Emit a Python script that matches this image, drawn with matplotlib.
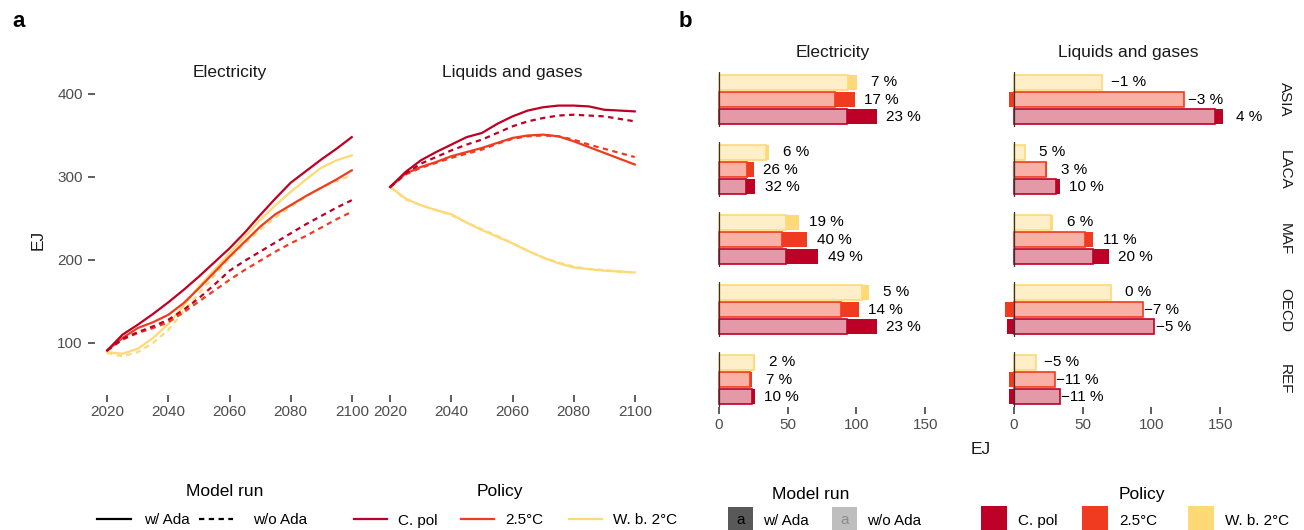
import matplotlib.pyplot as plt
from matplotlib.colors import to_rgba
from matplotlib.patches import Rectangle

plt.rcParams['font.family'] = ['Liberation Sans', 'DejaVu Sans']

# ---- panel a: global final energy, EJ ----
years = [2020, 2025, 2030, 2035, 2040, 2045, 2050, 2055, 2060,
         2065, 2070, 2075, 2080, 2085, 2090, 2095, 2100]

elec_cpol_w = [91, 110, 122, 135, 149, 164, 180, 197, 214, 233, 254, 274, 293, 307, 321, 334, 348]
elec_cpol_wo = [91, 105, 113, 120, 128, 140, 154, 170, 187, 199, 210, 221, 232, 243, 253, 263, 272]
elec_25_w = [91, 106, 118, 125, 134, 148, 166, 185, 204, 222, 240, 255, 266, 277, 287, 297, 308]
elec_25_wo = [91, 104, 112, 118, 125, 137, 150, 163, 176, 188, 199, 210, 220, 229, 239, 249, 258]
elec_wb2_w = [89, 87, 93, 106, 123, 145, 168, 188, 208, 228, 248, 266, 282, 297, 311, 320, 326]
elec_wb2_wo = [88, 84, 89, 100, 116, 138, 160, 181, 202, 220, 236, 251, 264, 276, 287, 295, 302]

liq_cpol_w = [288, 306, 320, 330, 339, 348, 353, 364, 373, 380, 384, 386, 386, 385, 381, 380, 379]
liq_cpol_wo = [288, 304, 316, 324, 332, 339, 345, 353, 361, 367, 371, 374, 375, 374, 373, 370, 367]
liq_25_w = [288, 304, 312, 318, 325, 330, 335, 341, 347, 350, 351, 349, 343, 336, 329, 322, 315]
liq_25_wo = [288, 303, 311, 317, 323, 328, 333, 340, 346, 349, 350, 349, 345, 339, 334, 329, 324]
liq_wb2_w = [288, 274, 266, 260, 255, 245, 236, 228, 220, 211, 203, 196, 191, 189, 187, 186, 185]
liq_wb2_wo = [288, 273, 266, 260, 254, 245, 237, 229, 220, 211, 203, 197, 192, 189, 188, 186, 185]

# ---- panel b: regional demand in 2100, EJ ----
regions = ["ASIA", "LACA", "MAF", "OECD", "REF"]
bar_policies = ["W. b. 2°C", "2.5°C", "C. pol"]   # top to bottom in each facet

# w/o Ada values and the change with Ada (%), per region, order of bar_policies
elec_wo_ada = [[94.0, 84.5, 93.2],
               [34.3, 20.2, 20.0],
               [49.1, 45.9, 48.5],
               [104.1, 89.1, 93.2],
               [25.7, 22.4, 23.8]]
elec_change = [[7, 17, 23],
               [6, 26, 32],
               [19, 40, 49],
               [5, 14, 23],
               [2, 7, 10]]
liq_wo_ada = [[64.2, 123.4, 145.9],
              [8.0, 23.7, 30.5],
              [26.9, 51.6, 57.6],
              [70.5, 94.2, 101.7],
              [16.4, 29.9, 33.8]]
liq_change = [[-1, -3, 4],
              [5, 3, 10],
              [6, 11, 20],
              [0, -7, -5],
              [-5, -11, -11]]

colors = {"C. pol": "#BD0026", "2.5°C": "#F03B20", "W. b. 2°C": "#FED976"}

W, H = 1304, 530
fig = plt.figure(figsize=(W / 100, H / 100), dpi=100)


def add_ax(left, top, right, bottom):
    return fig.add_axes([left / W, 1 - bottom / H, (right - left) / W, (bottom - top) / H])


def clean(ax):
    for s in ax.spines.values():
        s.set_visible(False)
    ax.set_facecolor("none")
    ax.tick_params(colors="#333333", labelcolor="#4D4D4D", labelsize=11,
                   length=4.8, width=1.1)


# ---- panel a ----
elec = {"W. b. 2°C": (elec_wb2_w, elec_wb2_wo),
        "2.5°C": (elec_25_w, elec_25_wo),
        "C. pol": (elec_cpol_w, elec_cpol_wo)}
liq = {"W. b. 2°C": (liq_wb2_w, liq_wb2_wo),
       "2.5°C": (liq_25_w, liq_25_wo),
       "C. pol": (liq_cpol_w, liq_cpol_wo)}

ax_el = add_ax(95, 85, 364, 395)
ax_lq = add_ax(378, 85, 647, 395)
for ax, title, series in [(ax_el, "Electricity", elec), (ax_lq, "Liquids and gases", liq)]:
    clean(ax)
    for pol in ["W. b. 2°C", "2.5°C", "C. pol"]:
        w, wo = series[pol]
        ax.plot(years, w, color=colors[pol], lw=1.6)
        ax.plot(years, wo, color=colors[pol], lw=1.6, ls=(0, (2.4, 2.0)))
    ax.set_xlim(2016, 2104)
    ax.set_ylim(37.3, 410.8)
    ax.set_xticks([2020, 2040, 2060, 2080, 2100])
    ax.tick_params(axis="x", pad=2.5)
    ax.text(0.5, 1 + 12 / 310, title, transform=ax.transAxes, ha="center",
            va="center", fontsize=12.5, color="#1A1A1A")
ax_el.set_yticks([100, 200, 300, 400])
ax_el.tick_params(axis="y", pad=4)
ax_lq.set_yticks([])
fig.text(38 / W, 1 - 240 / H, "EJ", rotation=90, ha="center", va="center",
         fontsize=12.5, color="#1A1A1A")

# ---- panel b ----
row_tops = [72, 142, 212, 282, 352]
row_h = 55
cols = [("Electricity", 705, 961, elec_wo_ada, elec_change),
        ("Liquids and gases", 1000, 1256, liq_wo_ada, liq_change)]

for title, left, right, wo_tab, pct_tab in cols:
    for i, reg in enumerate(regions):
        top = row_tops[i]
        ax = add_ax(left, top, right, top + row_h)
        clean(ax)
        ax.set_xlim(-10, 176)
        ax.set_ylim(3.6, 0.4)
        for k, pol in enumerate(bar_policies):
            c = colors[pol]
            wo = wo_tab[i][k]
            pct = pct_tab[i][k]
            w = wo * (1 + pct / 100)
            diff = w - wo
            # change due to adaptation: stacked on the w/o bar, or below zero if negative
            if diff >= 0:
                ax.barh(k + 1, diff, left=wo, height=0.9, color=c, lw=0)
            else:
                ax.barh(k + 1, diff, left=0, height=0.9, color=c, lw=0)
            ax.barh(k + 1, wo, left=0, height=0.9, facecolor=to_rgba(c, 0.4),
                    edgecolor=c, lw=1.2)
            label = f"{pct} %".replace("-", "\u2212")
            ax.text(w + 19.5, k + 1, label, ha="center", va="center",
                    fontsize=11, color="black")
        ax.axvline(0, color="#333333", lw=0.9, zorder=5)
        ax.set_yticks([])
        if i == len(regions) - 1:
            ax.set_xticks([0, 50, 100, 150])
            ax.tick_params(axis="x", pad=3)
        else:
            ax.set_xticks([])
        if title == "Liquids and gases":
            fig.text(1285 / W, 1 - (top + row_h / 2) / H, reg, rotation=-90,
                     ha="center", va="center", fontsize=11, color="#1A1A1A")
    fig.text((left + right) / 2 / W, 1 - 52 / H, title, ha="center", va="center",
             fontsize=12.5, color="#1A1A1A")

fig.text(981 / W, 1 - 450 / H, "EJ", ha="center", va="center", fontsize=12.5,
         color="#1A1A1A")

# panel tags
fig.text(12 / W, 1 - 27 / H, "a", fontsize=16, fontweight="bold", va="baseline")
fig.text(679 / W, 1 - 27 / H, "b", fontsize=16, fontweight="bold", va="baseline")

# ---- legends ----
lg = fig.add_axes([0, 0, 1, 1])
lg.set_xlim(0, W)
lg.set_ylim(H, 0)
lg.axis("off")

lg.text(225, 496, "Model run", ha="center", va="baseline", fontsize=12.5)
lg.plot([97, 131], [519, 519], color="black", lw=1.6)
lg.text(144, 524.5, "w/ Ada", va="baseline", fontsize=11)
lg.plot([199, 233], [519, 519], color="black", lw=1.6, ls=(0, (2.4, 2.0)))
lg.text(253, 524.5, "w/o Ada", va="baseline", fontsize=11)

lg.text(500, 496, "Policy", ha="center", va="baseline", fontsize=12.5)
for pol, x0 in [("C. pol", 354), ("2.5°C", 461), ("W. b. 2°C", 569)]:
    lg.plot([x0, x0 + 33], [519, 519], color=colors[pol], lw=1.6)
    lg.text(x0 + 44, 524.5, pol, va="baseline", fontsize=11)

lg.text(811, 499, "Model run", ha="center", va="baseline", fontsize=12.5)
for lab, x0, fc, tc in [("w/ Ada", 728, "#595959", "black"),
                        ("w/o Ada", 832, "#BEBEBE", "#8C8C8C")]:
    lg.add_patch(Rectangle((x0, 507), 25, 25, facecolor=fc, lw=0, clip_on=False))
    lg.text(x0 + 12.5, 520, "a", ha="center", va="center", fontsize=11, color=tc)
    lg.text(x0 + 35, 525, lab, va="baseline", fontsize=11)

lg.text(1142, 499, "Policy", ha="center", va="baseline", fontsize=12.5)
for pol, x0 in [("C. pol", 981), ("2.5°C", 1082), ("W. b. 2°C", 1188)]:
    lg.add_patch(Rectangle((x0, 506), 26, 26, facecolor=colors[pol], lw=0, clip_on=False))
    lg.text(x0 + 37, 525, pol, va="baseline", fontsize=11)

fig.savefig("out.png", dpi=100)
